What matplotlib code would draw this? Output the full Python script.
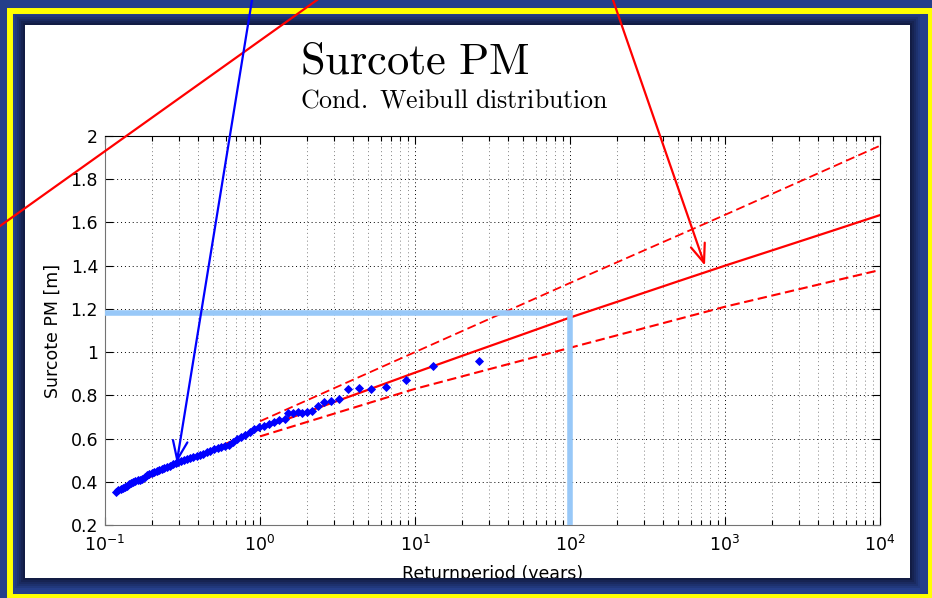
import numpy as np
import matplotlib
matplotlib.use('Agg')
import matplotlib.pyplot as plt
from matplotlib.patches import Rectangle, ConnectionPatch
from matplotlib.lines import Line2D
from matplotlib.ticker import FuncFormatter, LogLocator

plt.rcParams['font.family'] = ['DejaVu Sans']
plt.rcParams['mathtext.default'] = 'regular'

# Observed surge maxima (return period in years, level in m)
obs_T = [0.118, 0.122, 0.126, 0.13, 0.134, 0.138, 0.143, 0.148, 0.152, 0.157,
         0.163, 0.168, 0.174, 0.18, 0.187, 0.193, 0.2, 0.208, 0.216, 0.224,
         0.233, 0.242, 0.252, 0.262, 0.273, 0.285, 0.297, 0.31, 0.324, 0.339,
         0.355, 0.372, 0.39, 0.41, 0.431, 0.454, 0.478, 0.504, 0.532, 0.562,
         0.595, 0.63, 0.668, 0.71, 0.755, 0.805, 0.86, 0.92, 0.985, 1.06,
         1.14, 1.23, 1.33, 1.44, 1.52, 1.63, 1.75, 1.88, 2.02, 2.17,
         2.38, 2.59, 2.86, 3.25, 3.71, 4.35, 5.2, 6.47, 8.7, 13.0, 26.0]
obs_level = [0.354, 0.360, 0.366, 0.371, 0.377, 0.382, 0.388, 0.393, 0.398, 0.402,
             0.406, 0.410, 0.415, 0.422, 0.431, 0.436, 0.440, 0.444, 0.449, 0.455,
             0.460, 0.465, 0.470, 0.475, 0.481, 0.486, 0.490, 0.494, 0.499, 0.504,
             0.509, 0.513, 0.518, 0.524, 0.530, 0.537, 0.544, 0.551, 0.557, 0.562,
             0.567, 0.572, 0.582, 0.597, 0.607, 0.617, 0.630, 0.645, 0.652, 0.660,
             0.668, 0.678, 0.684, 0.690, 0.717, 0.720, 0.722, 0.720, 0.722, 0.726,
             0.750, 0.770, 0.775, 0.783, 0.828, 0.832, 0.830, 0.837, 0.872, 0.936, 0.959]

# Fitted conditional Weibull return levels
fit_T = [0.12, 0.2, 0.5, 1, 2, 5, 10, 20, 50, 100, 200, 500, 1000, 2000, 5000, 10000]
fit_level = [0.356, 0.426, 0.55, 0.645, 0.723, 0.826, 0.905, 0.982, 1.083, 1.16,
             1.232, 1.328, 1.40, 1.47, 1.563, 1.634]

# Confidence band
band_T = [1, 10, 100, 1000, 10000]
upper_level = [0.68, 1.0, 1.32, 1.635, 1.955]
lower_level = [0.61, 0.83, 1.02, 1.21, 1.38]

# 100-year design level
design_T = 100
design_level = 1.18

W, H = 932, 598


def box(x0, y0, x1, y1, color, z):
    # rectangle given in image pixels (origin top-left)
    r = Rectangle((x0 / W, 1 - y1 / H), (x1 - x0) / W, (y1 - y0) / H,
                  transform=fig.transFigure, facecolor=color, lw=0,
                  antialiased=False, zorder=z)
    fig.patches.append(r)


def frame(outer, inner, color, z=3):
    ox0, oy0, ox1, oy1 = outer
    ix0, iy0, ix1, iy1 = inner
    box(ox0, oy0, ox1, iy0, color, z)
    box(ox0, iy1, ox1, oy1, color, z)
    box(ox0, iy0, ix0, iy1, color, z)
    box(ix1, iy0, ox1, iy1, color, z)


fig = plt.figure(figsize=(W / 100, H / 100), dpi=100, facecolor='white')
ax = fig.add_axes([105 / W, (H - 525) / H, 775 / W, 389 / H])

# confidence band and fit
ax.plot(band_T, upper_level, color='red', lw=1.3, dashes=(5, 2.4))
ax.plot(band_T, lower_level, color='red', lw=1.5, dashes=(4.5, 2.2))
ax.plot(fit_T, fit_level, color='red', lw=1.6)
ax.plot(obs_T, obs_level, linestyle='none', marker='D', markersize=3.8,
        color='blue', markeredgewidth=0.6)

# design level guide
xmin = 0.1
ymin = 0.2
ax.plot([xmin, design_T, design_T], [design_level, design_level, ymin],
        color='#98c8f8', lw=4, clip_on=False, solid_joinstyle='miter',
        solid_capstyle='butt', zorder=4)

ax.set_xscale('log')
ax.set_xlim(xmin, 1e4)
ax.set_ylim(ymin, 2)
ax.set_yticks(np.arange(0.2, 2.01, 0.2))
ax.yaxis.set_major_formatter(FuncFormatter(lambda v, p: '%g' % round(v, 1)))
ax.xaxis.set_major_locator(LogLocator(base=10, numticks=10))
ax.xaxis.set_minor_locator(LogLocator(base=10, subs=np.arange(2, 10), numticks=20))

ax.tick_params(which='both', direction='in', top=True, right=True, labelsize=12.5,
               pad=5, width=0.8)
ax.tick_params(axis='x', which='both', pad=7)
ax.tick_params(which='major', length=6)
ax.tick_params(which='minor', length=3.5)
ax.grid(True, which='major', linestyle=(0, (1, 3)), color='black', lw=0.7)
ax.grid(True, which='minor', axis='x', linestyle=(0, (1, 3)), color='0.5', lw=0.7)
for side in ['left', 'bottom']:
    ax.spines[side].set_color('0.45')
ax.set_ylabel('Surcote PM [m]', fontsize=12.5, labelpad=6)
ax.set_xlabel('Returnperiod (years)', fontsize=12.5, labelpad=7)

fig.text(300 / W, 1 - 73 / H, r'$\mathrm{Surcote\ PM}$', math_fontfamily='cm',
         fontsize=32, va='baseline')
fig.text(300 / W, 1 - 108 / H, r'$\mathrm{Cond.\ Weibull\ distribution}$',
         math_fontfamily='cm', fontsize=18.6, va='baseline')

# slide background: dark frame with soft shadow around the white panel
panel = (25, 25, 910, 578)
base = np.array([0x25, 0x3f, 0x8a]) / 255
dark = np.array([0x12, 0x1c, 0x44]) / 255
n, d = 6, 2
frame((0, 0, W, H), (panel[0] - n * d, panel[1] - n * d, panel[2] + n * d, panel[3] + n * d), base)
for i in range(n):
    t = i / (n - 1)
    c = dark * (1 - t) + base * t
    frame((panel[0] - (i + 1) * d, panel[1] - (i + 1) * d, panel[2] + (i + 1) * d, panel[3] + (i + 1) * d),
          (panel[0] - i * d, panel[1] - i * d, panel[2] + i * d, panel[3] + i * d), c)
fig.patches.append(Rectangle((10 / W, 1 - 596.5 / H), 920.5 / W, 585.5 / H,
                             transform=fig.transFigure, fill=False,
                             edgecolor='#ffff00', lw=4.3, zorder=4))

# pointers
fig.add_artist(Line2D([0, 317 / W], [372 / H, 1], transform=fig.transFigure,
                      color='red', lw=1.6, zorder=6))
blue_arrow = ConnectionPatch(xyA=(252, H), coordsA='figure pixels',
                             xyB=(0.29, 0.488), coordsB='data', axesB=ax,
                             arrowstyle='->,head_length=0.9,head_width=0.35',
                             mutation_scale=15, color='blue', lw=1.6, zorder=6)
fig.add_artist(blue_arrow)
red_arrow = ConnectionPatch(xyA=(613, H), coordsA='figure pixels',
                            xyB=(743, 1.40), coordsB='data', axesB=ax,
                            arrowstyle='->,head_length=0.9,head_width=0.35',
                            mutation_scale=15, color='red', lw=1.6, zorder=6)
fig.add_artist(red_arrow)

fig.savefig('out.png', dpi=100)
